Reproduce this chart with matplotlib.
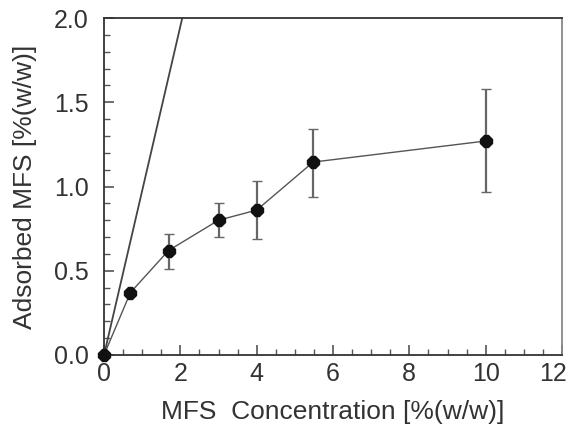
import numpy as np
import matplotlib
matplotlib.use("Agg")
import matplotlib.pyplot as plt
import matplotlib.transforms as mtransforms

# adsorption data
conc = [0.0, 0.69, 1.69, 3.0, 4.0, 5.48, 10.0]
adsorbed = [0.0, 0.37, 0.62, 0.80, 0.86, 1.145, 1.27]
err_lo = [0.0, 0.0, 0.11, 0.10, 0.17, 0.205, 0.30]
err_hi = [0.0, 0.0, 0.10, 0.10, 0.17, 0.195, 0.31]

# 100% adsorption reference line
ref_x = [0.0, 2.05]
ref_y = [0.0, 2.0]

plt.rcParams['font.family'] = ['Liberation Sans', 'DejaVu Sans']
txt = '#333333'

fig = plt.figure(figsize=(5.7, 4.26), dpi=100)
ax = fig.add_axes([0.1825, 0.1667, 0.8035, 0.791])

ax.plot(ref_x, ref_y, color='#444444', lw=1.3)
ax.errorbar(conc, adsorbed, yerr=[err_lo, err_hi], fmt='none', ecolor='#666666',
            elinewidth=1.6, capsize=3.5, capthick=1.0, zorder=2)
ax.plot(conc, adsorbed, color='#555555', lw=1.0, marker='8', ms=9,
        mfc='#111111', mec='#111111', zorder=3, clip_on=False)

ax.set_xlim(0, 12)
ax.set_ylim(0, 2.0)
ax.set_xticks(np.arange(0, 13, 2))
ax.set_xticks(np.arange(0, 12.01, 0.5), minor=True)
ax.set_yticks([0.0, 0.5, 1.0, 1.5, 2.0])
ax.set_yticks(np.arange(0, 2.001, 0.1), minor=True)
ax.set_yticklabels(['0.0', '0.5', '1.0', '1.5', '2.0'])

ax.tick_params(which='both', direction='in', colors='#555555', labelcolor=txt,
               labelsize=18)
ax.tick_params(which='major', length=7, width=1.2)
ax.tick_params(axis='x', which='major', pad=5)
ax.tick_params(axis='y', which='major', pad=11)
ax.tick_params(which='minor', length=4, width=1.0)
ax.tick_params(top=False, right=False, which='both')

# last x label sits a bit left so it fits inside the picture
lab = ax.get_xticklabels()[-1]
lab.set_transform(lab.get_transform() + mtransforms.ScaledTranslation(-9 / 100, 0, fig.dpi_scale_trans))

for s in ['left', 'bottom', 'top']:
    ax.spines[s].set_color('#333333')
    ax.spines[s].set_linewidth(1.3)
ax.spines['right'].set_color('#888888')
ax.spines['right'].set_linewidth(1.3)

ax.set_xlabel('MFS  Concentration [%(w/w)]', fontsize=19, color=txt, labelpad=10)
ax.set_ylabel('Adsorbed MFS [%(w/w)]', fontsize=19, color=txt, labelpad=12)

plt.savefig('out.png', dpi=100)
